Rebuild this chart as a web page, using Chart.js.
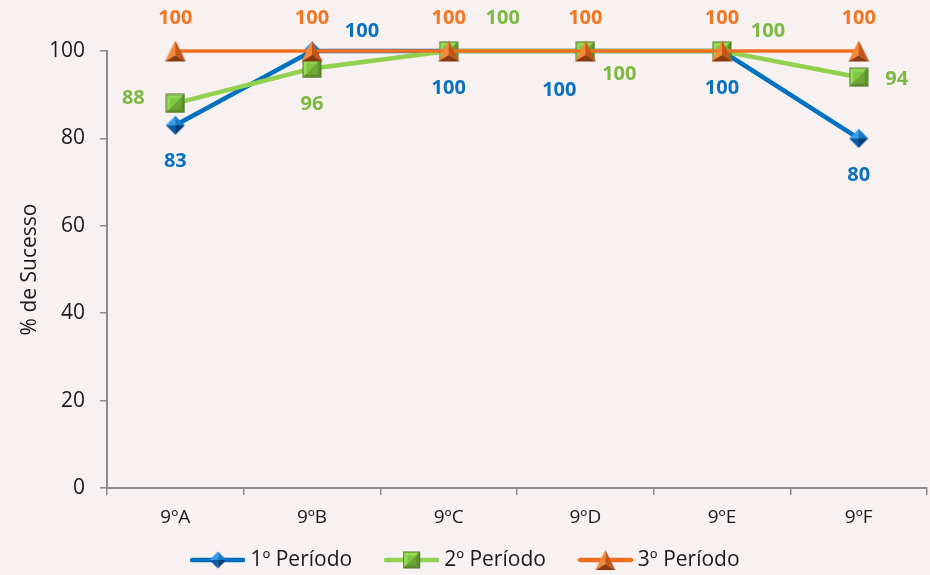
<!DOCTYPE html>
<html><head><meta charset="utf-8">
<script src="https://cdn.jsdelivr.net/npm/chart.js@4.4.1/dist/chart.umd.min.js"></script>
<style>html,body{margin:0;padding:0;background:#F7F1F1;}canvas{display:block;}</style>
</head><body>
<canvas id="c" width="930" height="575"></canvas>
<script>
const categories = ['9ºA', '9ºB', '9ºC', '9ºD', '9ºE', '9ºF'];
const periodo1 = [83, 100, 100, 100, 100, 80];
const periodo2 = [88, 96, 100, 100, 100, 94];
const periodo3 = [100, 100, 100, 100, 100, 100];
const seriesNames = ['1º Período', '2º Período', '3º Período'];
const yTickStep = 20;

const FONT = '"Open Sans"';
const lineColors = ['#0070C0', '#92D050', '#F07021'];
const labelColors = ['#0A70C0', '#7DB940', '#F47622'];
// label offsets (dx, dy) relative to each marker
const labelOffsets = [
  [[0,36],[50,-20],[0,37],[-26,39],[0,37],[0,37]],
  [[-42,-5],[0,36],[54,-33],[34,23],[46,-20],[38,2]],
  [[0,-33],[0,-33],[0,-33],[0,-33],[0,-33],[0,-33]]
];

function mk(w, h, draw) {
  const c = document.createElement('canvas'); c.width = w; c.height = h;
  draw(c.getContext('2d')); return c;
}
function poly(ctx, pts, fill) {
  ctx.beginPath(); ctx.moveTo(pts[0][0], pts[0][1]);
  for (let i = 1; i < pts.length; i++) ctx.lineTo(pts[i][0], pts[i][1]);
  ctx.closePath(); ctx.fillStyle = fill; ctx.fill();
}
function drawDiamond(ctx, cx, cy, r) {
  const t=[cx,cy-r], rt=[cx+r,cy], b=[cx,cy+r], l=[cx-r,cy], c=[cx,cy];
  poly(ctx,[t,c,l],'#3C9BE6'); poly(ctx,[t,rt,c],'#1877C6');
  poly(ctx,[c,rt,b],'#063F78'); poly(ctx,[l,c,b],'#0A5CA4');
}
function drawSquare(ctx, cx, cy, r) {
  const x0=cx-r, y0=cy-r, x1=cx+r, y1=cy+r;
  ctx.fillStyle='#4E7424'; ctx.fillRect(x0,y0,2*r,2*r);
  poly(ctx,[[x0+1,y0+1],[x1-1,y0+1],[x0+1,y1-1]],'#96DC55');
  poly(ctx,[[x1-1,y0+1],[x1-1,y1-1],[x0+1,y1-1]],'#5F922D');
  ctx.fillStyle='#7FC544'; ctx.fillRect(cx-r+4,cy-r+4,2*r-8,2*r-8);
  poly(ctx,[[cx+r-4,cy-r+4],[cx+r-4,cy+r-4],[cx-r+4,cy+r-4]],'#6EA636');
}
function drawTriangle(ctx, cx, cy, r) {
  const a=[cx,cy-r], bl=[cx-r,cy+r], br=[cx+r,cy+r], c=[cx,cy+r*0.4];
  poly(ctx,[a,c,bl],'#F5893A'); poly(ctx,[a,br,c],'#C4561A'); poly(ctx,[bl,c,br],'#8A3A0E');
}
const markers = [
  mk(20,20,ctx=>drawDiamond(ctx,10,10,9.5)),
  mk(20,20,ctx=>drawSquare(ctx,10,10,9.5)),
  mk(22,22,ctx=>drawTriangle(ctx,11,11,10.5))
];
const drawers = [drawDiamond, drawSquare, drawTriangle];
const legendImgs = [0,1,2].map(i => mk(55,22,ctx=>{
  ctx.strokeStyle = lineColors[i]; ctx.lineWidth = 4.5; ctx.lineCap = 'round';
  ctx.beginPath(); ctx.moveTo(2,11); ctx.lineTo(53,11); ctx.stroke();
  drawers[i](ctx,27.5,11, i===2?10:8.5);
}));

const dataLabelPlugin = {
  id: 'dataLabels',
  afterDatasetsDraw(chart) {
    const ctx = chart.ctx;
    ctx.save();
    ctx.font = 'bold 20px ' + FONT;
    ctx.textAlign = 'center'; ctx.textBaseline = 'middle';
    chart.data.datasets.forEach((ds, di) => {
      const meta = chart.getDatasetMeta(di);
      meta.data.forEach((pt, i) => {
        const off = labelOffsets[di][i];
        ctx.fillStyle = labelColors[di];
        ctx.fillText(String(Math.round(ds.data[i])), pt.x + off[0], pt.y + off[1]);
      });
    });
    ctx.restore();
  }
};

// legend drawn at the bottom: line+marker sample followed by the series name
const bottomLegend = {
  id: 'bottomLegend',
  afterDraw(chart) {
    const ctx = chart.ctx;
    ctx.save();
    ctx.font = '21px ' + FONT;
    ctx.fillStyle = '#1A1A1A';
    ctx.textBaseline = 'middle'; ctx.textAlign = 'left';
    const imgW = 55, gap = 5, itemGap = 32, cy = 560;
    const items = chart.data.datasets.map((ds, i) => ({ text: ds.label, img: legendImgs[i], tw: ctx.measureText(ds.label).width }));
    const total = items.reduce((s, it) => s + imgW + gap + it.tw, 0) + itemGap * (items.length - 1);
    let x = chart.width / 2 - total / 2;
    items.forEach(it => {
      ctx.drawImage(it.img, x, cy - it.img.height / 2);
      x += imgW + gap;
      ctx.fillText(it.text, x, cy);
      x += it.tw + itemGap;
    });
    ctx.restore();
  }
};

const seriesData = [periodo1, periodo2, periodo3];
new Chart(document.getElementById('c'), {
  type: 'line',
  data: {
    labels: categories,
    datasets: seriesData.map((d, i) => ({
      label: seriesNames[i], data: d,
      borderColor: lineColors[i], backgroundColor: lineColors[i],
      borderWidth: i === 2 ? 3.5 : 4.5,
      pointStyle: markers[i], pointRadius: 10, tension: 0,
      clip: false,
      order: 2 - i
    }))
  },
  options: {
    responsive: false, animation: false,
    layout: { autoPadding: false, padding: { left: 0, right: 3, top: 51, bottom: 42 } },
    scales: {
      x: {
        offset: true,
        grid: { display: true, drawOnChartArea: false, offset: true, tickLength: 7, color: '#8C8C8C', lineWidth: 1.5 },
        border: { color: '#8C8C8C', width: 2 },
        ticks: { font: { family: FONT, size: 19 }, color: '#1A1A1A', padding: 11 },
        afterFit: s => { s.height = 45; }
      },
      y: {
        min: 0, max: 100,
        grid: { display: true, drawOnChartArea: false, tickLength: 7, color: '#8C8C8C', lineWidth: 1.5 },
        border: { color: '#8C8C8C', width: 2 },
        ticks: { stepSize: yTickStep, font: { family: FONT, size: 21 }, color: '#1A1A1A', padding: 15 },
        title: { display: true, text: '% de Sucesso', font: { family: FONT, size: 21 }, color: '#1A1A1A', padding: { top: 17, bottom: 0 } },
        afterFit: s => { s.width = 107; }
      }
    },
    plugins: {
      legend: { display: false },
      tooltip: { enabled: false }
    }
  },
  plugins: [dataLabelPlugin, bottomLegend, {
    id: 'bg',
    beforeDraw(chart) { const c = chart.ctx; c.save(); c.fillStyle = '#F7F1F1'; c.fillRect(0,0,chart.width,chart.height); c.restore(); }
  }]
});
</script>
</body></html>
